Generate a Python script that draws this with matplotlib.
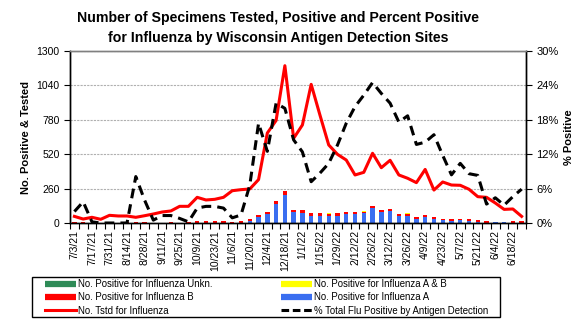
import matplotlib
matplotlib.use("Agg")
import matplotlib.pyplot as plt
import numpy as np
import pandas as pd
from matplotlib.lines import Line2D
from matplotlib.patches import Rectangle
from matplotlib.ticker import FuncFormatter

plt.rcParams["font.family"] = ["Liberation Sans", "DejaVu Sans"]

# weekly categories, 7/3/21 .. 6/25/22
weeks = pd.date_range("2021-07-03", periods=52, freq="7D")
week_labels = [f"{d.month}/{d.day}/{d.year % 100}" for d in weeks]

pos_a = [0, 0, 0, 0, 0, 0, 0, 0, 0, 0, 0, 3, 0, 0, 0, 0, 0, 0, 0, 0,
         15, 43, 71, 146, 212, 81, 76, 55, 55, 55, 55, 71, 71, 72, 114, 84,
         91, 54, 54, 29, 43, 31, 21, 17, 20, 16, 10, 3, 7, 7, 2, 2]
pos_b = [5, 4, 2, 3, 3, 2, 4, 6, 8, 3, 3, 4, 3, 8, 13, 13, 13, 13, 5, 13,
         15, 17, 12, 20, 30, 17, 22, 21, 21, 13, 21, 12, 12, 9, 16, 15,
         15, 14, 14, 15, 16, 15, 13, 12, 14, 13, 11, 11, 1, 1, 12, 12]
pos_ab = [0] * 29 + [9, 0, 0, 0, 8, 0, 0, 0, 0, 8] + [0] * 13
pos_unkn = [0] * 52
tested = [50, 30, 43, 28, 58, 53, 53, 43, 55, 68, 83, 91, 126, 126, 194, 174,
          179, 194, 244, 252, 257, 328, 680, 775, 1189, 640, 741, 1048, 816,
          590, 519, 476, 363, 383, 527, 418, 474, 363, 338, 305, 405, 249,
          310, 287, 285, 255, 199, 194, 151, 103, 106, 50]
pct_pos = [2.0, 3.7, 0.2, 0.0, 0.0, 0.0, 0.0, 8.1, 4.0, 0.5, 1.3, 1.3, 0.8,
           0.2, 2.6, 2.9, 2.9, 2.6, 0.9, 1.4, 6.6, 17.4, 12.5, 20.9, 20.0,
           14.5, 12.4, 7.2, 8.7, 10.4, 13.6, 17.4, 20.3, 22.3, 24.5, 22.6,
           20.9, 17.6, 18.7, 13.7, 14.1, 15.4, 11.8, 8.4, 10.4, 8.6, 8.3,
           3.3, 4.4, 3.1, 4.6, 5.9]

BLUE = "#3a6ef0"
RED = "#ff0000"
YELLOW = "#ffff00"
GREEN = "#2e8b57"

x = np.arange(len(weeks))
a = np.array(pos_a)
b = np.array(pos_b)
ab = np.array(pos_ab)
un = np.array(pos_unkn)

fig = plt.figure(figsize=(5.87, 3.21), dpi=100)
ax = fig.add_axes([0.1193, 0.3053, 0.7768, 0.5358])
ax2 = ax.twinx()

w = 0.5
ax.bar(x, a, w, color=BLUE, zorder=2)
ax.bar(x, b, w, bottom=a, color=RED, zorder=2)
ax.bar(x, ab, w, bottom=a + b, color=YELLOW, zorder=2)
ax.bar(x, un, w, bottom=a + b + ab, color=GREEN, zorder=2)
ax.plot(x, tested, color=RED, lw=2.2, zorder=3)
ax2.plot(x, pct_pos, color="black", lw=2.2, dashes=(3.2, 2.0), zorder=4)

ax.set_xlim(-0.5, len(weeks) - 0.5)
ax.set_ylim(0, 1300)
ax.set_yticks(np.arange(0, 1301, 260))
ax2.set_ylim(0, 30)
ax2.set_yticks(np.arange(0, 31, 6))
ax2.yaxis.set_major_formatter(FuncFormatter(lambda v, _: f"{v:.0f}%"))

ax.set_xticks(x[::2])
ax.set_xticklabels(week_labels[::2], rotation=90, fontsize=7.5)
ax.set_xticks(np.arange(-0.5, len(weeks), 1), minor=True)
ax.tick_params(axis="x", which="major", length=0, pad=5)
ax.tick_params(axis="x", which="minor", length=4, width=0.8)
ax.tick_params(axis="y", labelsize=7.5, length=4, width=0.8)
ax2.tick_params(axis="y", labelsize=8, length=4, width=0.8)

ax.yaxis.grid(True, color="#b0b0b0", linestyle=(0, (2, 1)), lw=0.8)
ax.set_axisbelow(True)
for a_ in (ax, ax2):
    a_.spines["top"].set_color("#808080")
    a_.spines["top"].set_linewidth(1.0)
    for s in ("left", "right", "bottom"):
        a_.spines[s].set_linewidth(1.0)

ax.set_ylabel("No. Positive & Tested", fontsize=8, fontweight="bold", labelpad=4)
ax2.set_ylabel("% Positive", fontsize=8, fontweight="bold", labelpad=4)

fig.text(0.474, 0.913, "Number of Specimens Tested, Positive and Percent Positive\n"
         "for Influenza by Wisconsin Antigen Detection Sites",
         ha="center", va="center", fontsize=10.2, fontweight="bold", linespacing=1.5)

# legend box drawn by hand, entries placed inside it
W, H = 587, 321
fig.patches.append(Rectangle((32 / W, 1 - 317 / H), 468 / W, 40 / H,
                             transform=fig.transFigure, fill=False,
                             edgecolor="black", lw=1.0))
handles = [
    Line2D([], [], color=GREEN, lw=4.5, solid_capstyle="butt"),
    Line2D([], [], color=RED, lw=4.5, solid_capstyle="butt"),
    Line2D([], [], color=RED, lw=2.2),
    Line2D([], [], color=YELLOW, lw=4.5, solid_capstyle="butt"),
    Line2D([], [], color=BLUE, lw=4.5, solid_capstyle="butt"),
    Line2D([], [], color="black", lw=2.2, dashes=(2.5, 1.2)),
]
labels = [
    "No. Positive for Influenza Unkn.",
    "No. Positive for Influenza B",
    "No. Tstd for Influenza",
    "No. Positive for Influenza A & B",
    "No. Positive for Influenza A",
    "% Total Flu Positive by Antigen Detection",
]
fs = 6.9
em = fs * 100 / 72
fig.legend(handles, labels, ncol=2, loc="upper left",
           bbox_to_anchor=(45 / W, 1 - 279 / H),
           fontsize=fs, frameon=False,
           handlelength=31 / em, handletextpad=2 / em, labelspacing=0.35,
           columnspacing=68 / em, borderpad=0, borderaxespad=0)

fig.savefig("out.png", dpi=100)
